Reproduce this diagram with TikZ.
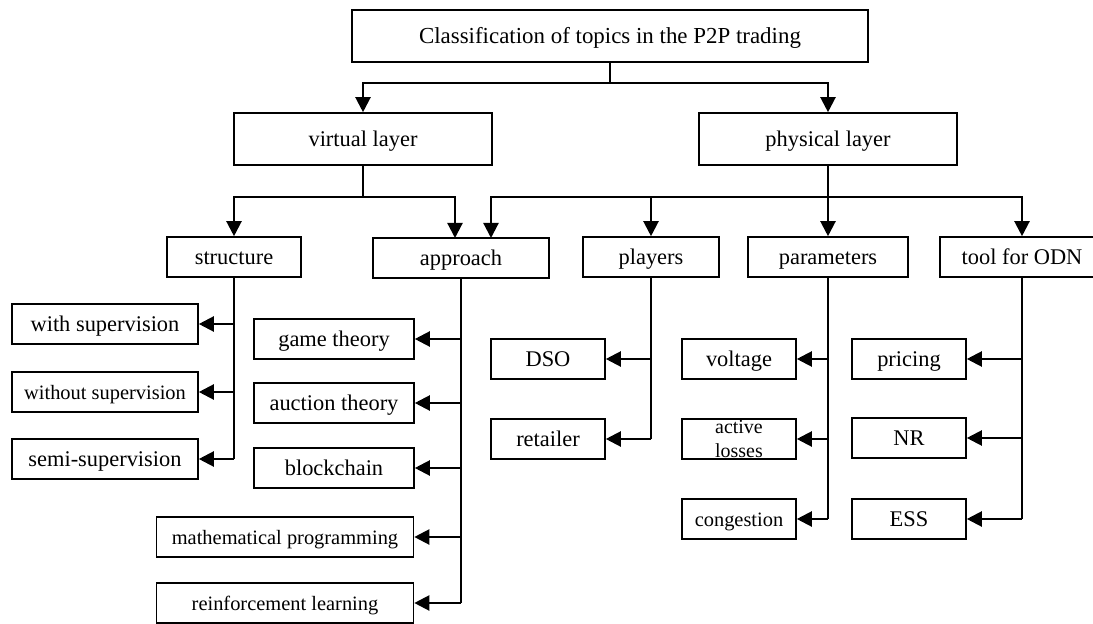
\documentclass[tikz,border=0pt]{standalone}
\usepackage{fontspec}
\setmainfont{Liberation Serif}
\usetikzlibrary{arrows.meta,calc}
\begin{document}
\begin{tikzpicture}[x=1bp,y=-1bp,
  boxbase/.style={draw=black, line width=1.6bp, rectangle, inner sep=0pt, text=black},
  box/.style={boxbase, font=\fontsize{22.5pt}{26pt}\selectfont, text height=15bp, text depth=0bp},
  small/.style={font=\fontsize{20.5pt}{24pt}\selectfont},
  conn/.style={draw=black, line width=2.2bp},
  arr/.style={conn, -{Triangle[length=15bp,width=15bp]}}]
\useasboundingbox (0,0) rectangle (1093,624);
\fill[white] (0,0) rectangle (1093,624);
% level 0 and 1
\node[box, font=\fontsize{23pt}{26pt}\selectfont, minimum width=516bp, minimum height=52bp] (top) at (610,36) {Classification of topics in the P2P trading};
\node[box, minimum width=258bp, minimum height=52bp] (virtual) at (363,139) {virtual layer};
\node[box, minimum width=258bp, minimum height=52bp] (physical) at (828,139) {physical layer};
% level 2
\node[box, minimum width=134bp, minimum height=40bp] (structure) at (234,257) {structure};
\node[box, minimum width=176bp, minimum height=40bp] (approach) at (461,258) {approach};
\node[box, minimum width=136bp, minimum height=40bp] (players) at (651,257) {players};
\node[box, minimum width=160bp, minimum height=40bp] (parameters) at (828,257) {parameters};
\node[box, minimum width=164bp, minimum height=40bp] (tool) at (1022,257) {tool for ODN};
% structure children
\node[box, minimum width=186bp, minimum height=40bp] (wsup) at (105,324) {with supervision};
\node[box, small, minimum width=186bp, minimum height=40bp] (wosup) at (105,392) {without supervision};
\node[box, minimum width=186bp, minimum height=40bp] (semi) at (105,459) {semi-supervision};
% approach children
\node[box, minimum width=160bp, minimum height=40bp] (game) at (334,339) {game theory};
\node[box, minimum width=160bp, minimum height=40bp] (auction) at (334,403) {auction theory};
\node[box, minimum width=160bp, minimum height=40bp] (block) at (334,468) {blockchain};
\node[box, small, minimum width=257bp, minimum height=40bp] (math) at (285,537) {mathematical programming};
\node[box, small, minimum width=257bp, minimum height=40bp] (reinf) at (285,603) {reinforcement learning};
% players children
\node[box, minimum width=114bp, minimum height=40bp] (dso) at (548,359) {DSO};
\node[box, minimum width=114bp, minimum height=40bp] (retailer) at (548,439) {retailer};
% parameters children
\node[box, minimum width=114bp, minimum height=40bp] (voltage) at (739,359) {voltage};
\node[boxbase, minimum width=114bp, minimum height=40bp, align=center, font=\fontsize{20pt}{24pt}\selectfont] (active) at (739,439) {active\\losses};
\node[box, small, minimum width=114bp, minimum height=40bp] (congestion) at (739,519) {congestion};
% tool children
\node[box, minimum width=114bp, minimum height=40bp] (pricing) at (909,359) {pricing};
\node[box, minimum width=114bp, minimum height=40bp] (nr) at (909,438) {NR};
\node[box, minimum width=114bp, minimum height=40bp] (ess) at (909,519) {ESS};
% top connectors
\draw[conn] (top.south) -- ++(0,20) coordinate (j0);
\draw[arr] (j0) -| (virtual.north);
\draw[arr] (j0) -| (physical.north);
% virtual connectors
\coordinate (apL) at (455,238);
\coordinate (apR) at (491,238);
\draw[conn] (virtual.south) -- ++(0,31) coordinate (jv);
\draw[arr] (jv) -| (structure.north);
\draw[arr] (jv) -| (apL);
% physical connectors
\draw[conn] (physical.south) -- ++(0,31) coordinate (jp);
\draw[arr] (jp) -| (apR);
\draw[arr] (jp) -| (players.north);
\draw[arr] (jp) -| (parameters.north);
\draw[arr] (jp) -| (tool.north);
% structure stem
\draw[conn] (structure.south) -- (structure.south |- semi.east);
\foreach \n in {wsup,wosup,semi} \draw[arr] (structure.south |- \n.east) -- (\n.east);
% approach stem
\draw[conn] (approach.south) -- (approach.south |- reinf.east);
\foreach \n in {game,auction,block,math,reinf} \draw[arr] (approach.south |- \n.east) -- (\n.east);
% players stem
\draw[conn] (players.south) -- (players.south |- retailer.east);
\foreach \n in {dso,retailer} \draw[arr] (players.south |- \n.east) -- (\n.east);
% parameters stem
\draw[conn] (parameters.south) -- (parameters.south |- congestion.east);
\foreach \n in {voltage,active,congestion} \draw[arr] (parameters.south |- \n.east) -- (\n.east);
% tool stem
\draw[conn] (tool.south) -- (tool.south |- ess.east);
\foreach \n in {pricing,nr,ess} \draw[arr] (tool.south |- \n.east) -- (\n.east);
\end{tikzpicture}
\end{document}
